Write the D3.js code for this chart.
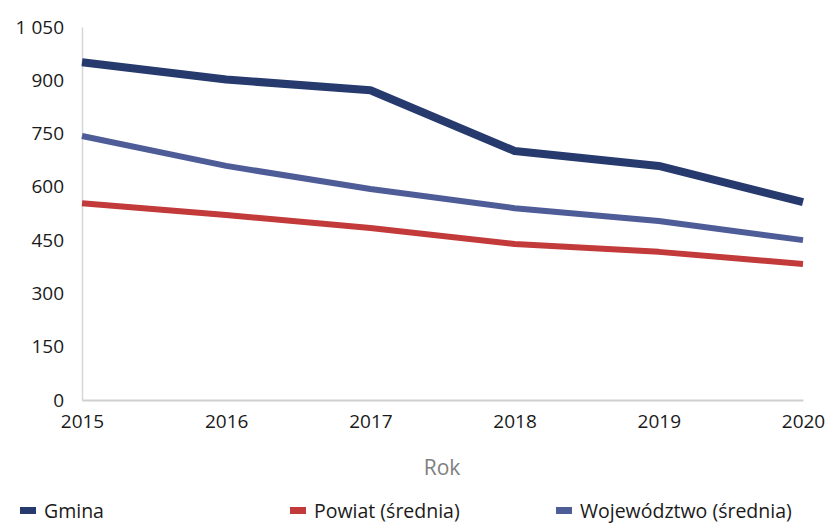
<!DOCTYPE html>
<html>
<head>
<meta charset="utf-8">
<script src="https://cdn.jsdelivr.net/npm/d3@7"></script>
<style>
  body { margin: 0; background: #fff; }
  svg text { font-family: "Open Sans", sans-serif; }
</style>
</head>
<body>
<div id="chart"></div>
<script>
// Data
const years = [2015, 2016, 2017, 2018, 2019, 2020];
const gmina = [951, 902, 872, 701, 659, 557];
const powiat = [554, 521, 484, 439, 417, 383];
const wojewodztwo = [743, 659, 594, 540, 504, 450];
const yTicks = [0, 150, 300, 450, 600, 750, 900, 1050];

const series = [
    { name: "Gmina", values: gmina, color: "#263a6e", width: 8 },
    { name: "Powiat (średnia)", values: powiat, color: "#c23a3a", width: 6 },
    { name: "Województwo (średnia)", values: wojewodztwo, color: "#4e5c98", width: 6 }
];

const width = 828, height = 524;
const margin = { top: 27, right: 25, bottom: 124, left: 82 };

const svg = d3.select("#chart").append("svg")
    .attr("width", width)
    .attr("height", height);

const x = d3.scaleLinear()
    .domain([2015, 2020])
    .range([margin.left, width - margin.right]);

const y = d3.scaleLinear()
    .domain([0, 1050])
    .range([height - margin.bottom, margin.top]);

const fmt = v => d3.format(",")(v).replace(/,/g, " ");

// Y axis
const yAxis = svg.append("g")
    .attr("transform", `translate(${margin.left},0)`)
    .call(d3.axisLeft(y).tickValues(yTicks).tickSize(0).tickPadding(18).tickFormat(fmt));
yAxis.select(".domain").attr("stroke", "#d6d6d6").attr("stroke-width", 1.5);
yAxis.selectAll("text").attr("font-size", 19).attr("fill", "#1a1a1a");

// X axis
const xAxis = svg.append("g")
    .attr("transform", `translate(0,${height - margin.bottom})`)
    .call(d3.axisBottom(x).tickValues(years).tickSize(0).tickPadding(15).tickFormat(d3.format("d")));
xAxis.select(".domain").attr("stroke", "#cfcfcf").attr("stroke-width", 2);
xAxis.selectAll("text").attr("font-size", 19).attr("fill", "#1a1a1a");

// X axis title
svg.append("text")
    .attr("x", 442)
    .attr("y", 475)
    .attr("text-anchor", "middle")
    .attr("font-size", 21)
    .attr("fill", "#808080")
    .text("Rok");

// Lines
const line = d3.line()
    .x((d, i) => x(years[i]))
    .y(d => y(d));

svg.append("g").selectAll("path")
    .data(series)
    .enter().append("path")
        .attr("d", d => line(d.values))
        .attr("fill", "none")
        .attr("stroke", d => d.color)
        .attr("stroke-width", d => d.width)
        .attr("stroke-linejoin", "round");

// Legend
const legendX = [20, 290, 556];
const legend = svg.append("g").selectAll("g")
    .data(series)
    .enter().append("g")
        .attr("transform", (d, i) => `translate(${legendX[i]},511)`);
legend.append("rect")
    .attr("x", 0).attr("y", -4)
    .attr("width", 16).attr("height", 7)
    .attr("fill", d => d.color);
legend.append("text")
    .attr("x", 24)
    .attr("y", 7)
    .attr("font-size", 19.5)
    .attr("fill", "#1a1a1a")
    .text(d => d.name);
</script>
</body>
</html>
